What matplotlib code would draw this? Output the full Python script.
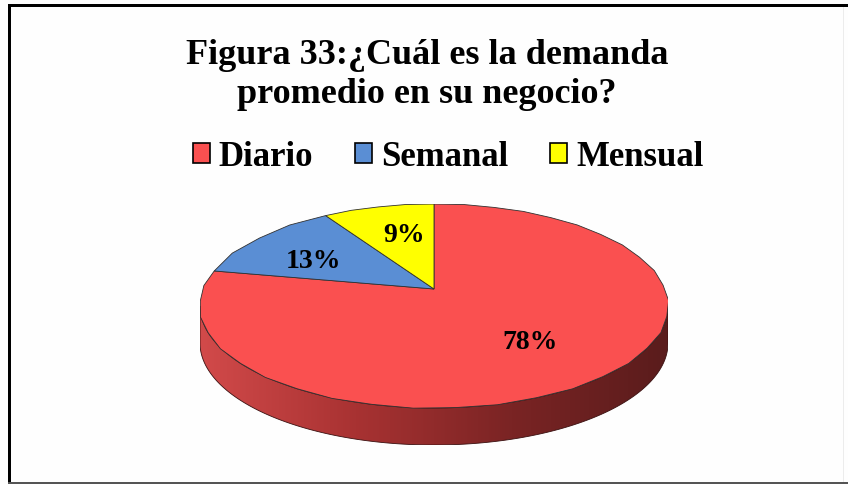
import numpy as np
import matplotlib
matplotlib.use("Agg")
import matplotlib.pyplot as plt
from matplotlib.patches import Patch, Polygon, Rectangle
from matplotlib.colors import LinearSegmentedColormap

# data
categories = ["Diario", "Semanal", "Mensual"]
shares = [78, 13, 9]
colors = ["#FA5050", "#5A8ED4", "#FFFF00"]
title = "Figura 33:¿Cuál es la demanda\npromedio en su negocio?"

W, H = 848, 485
fig = plt.figure(figsize=(W / 100, H / 100), dpi=100)
fig.patch.set_facecolor("#fefefe")
fig.patch.set_edgecolor("none")
fig.patch.set_linewidth(0)

serif = ["Liberation Serif", "DejaVu Serif"]

# frame lines like the screenshot (thick top/left, thin grey bottom, faint right)
fig.add_artist(Rectangle((8 / W, (H - 8) / H), (W - 8) / W, 3 / H, transform=fig.transFigure,
                         facecolor="black", edgecolor="none"))
fig.add_artist(Rectangle((8 / W, 0), 3 / W, (H - 5) / H, transform=fig.transFigure,
                         facecolor="black", edgecolor="none"))
fig.add_artist(Rectangle((8 / W, 0), (W - 8) / W, 2 / H, transform=fig.transFigure,
                         facecolor="#555555", edgecolor="none"))
fig.add_artist(Rectangle((843 / W, 2 / H), 1 / W, (H - 10) / H, transform=fig.transFigure,
                         facecolor="#ececec", edgecolor="none"))

fig.text(427 / W, 1 - 75 / H, title, ha="center", va="center", fontsize=26,
         fontweight="bold", family=serif, linespacing=1.25)

handles = [Patch(facecolor=c, edgecolor="black", linewidth=1.2) for c in colors]
fig.legend(handles, categories, ncol=3, loc="center", bbox_to_anchor=(448 / W, 1 - 158 / H),
           frameon=False, prop={"family": serif, "weight": "bold", "size": 25},
           handlelength=0.5, handleheight=0.5, handletextpad=0.25, columnspacing=1.2)

# pie geometry in pixels: top face ellipse + side depth
cx, cy, rx, ry, depth = 434, 307, 234, 102, 37
d = depth / ry
tilt = 17 / ry  # perspective: pie centre sits above the ellipse centre
k = np.sqrt(1 - tilt ** 2)


def persp(xy):
    x, y = xy[:, 0], xy[:, 1]
    den = 1 + tilt * y
    return np.column_stack([k * x / den, (y + tilt) / den])


ax = fig.add_axes([(cx - rx) / W, (H - (cy + ry + depth)) / H, 2 * rx / W, (2 * ry + depth) / H])
ax.axis("off")

wedges, texts, autotexts = ax.pie(shares, colors=colors, startangle=90, counterclock=False,
                                  radius=1, autopct="%d%%",
                                  textprops={"family": serif, "weight": "bold", "size": 20})
ax.set_aspect("auto")

# re-draw the wedges with a perspective tilt
for w in wedges:
    poly = w.get_path().to_polygons()[0]
    ax.add_patch(Polygon(persp(poly), closed=True, facecolor=w.get_facecolor(),
                         edgecolor="#303030", linewidth=0.6, zorder=2))
    w.set_visible(False)

# side of the cylinder (front half, all Diario)
a = np.arcsin(tilt)
t = np.linspace(np.pi + a, 2 * np.pi - a, 200)
top = persp(np.column_stack([np.cos(t), np.sin(t)]))
bot = top[::-1] - [0, d]
side = Polygon(np.vstack([top, bot]), closed=True, facecolor="none",
               edgecolor="#3a1010", linewidth=0.6, zorder=1)
ax.add_patch(side)
cmap = LinearSegmentedColormap.from_list("side", ["#D24A4A", "#A83232", "#7A2424", "#5A1C1C"])
grad = np.linspace(0, 1, 256).reshape(1, -1)
img = ax.imshow(grad, cmap=cmap, extent=[-1, 1, -1 - d, 0.2], aspect="auto", zorder=0.5)
img.set_clip_path(side)
ax.set_xlim(-1, 1)
ax.set_ylim(-1 - d, 1)

# label spots on the top face (pixels in the reference)
label_px = [(530, 343), (313, 262), (404, 236)]
for txt, (px, py) in zip(autotexts, label_px):
    txt.set_position(((px - cx) / rx, (cy - py) / ry))
    txt.set_ha("center")
    txt.set_va("center")
    txt.set_zorder(3)

fig.savefig("out.png", dpi=100, facecolor=fig.get_facecolor())
